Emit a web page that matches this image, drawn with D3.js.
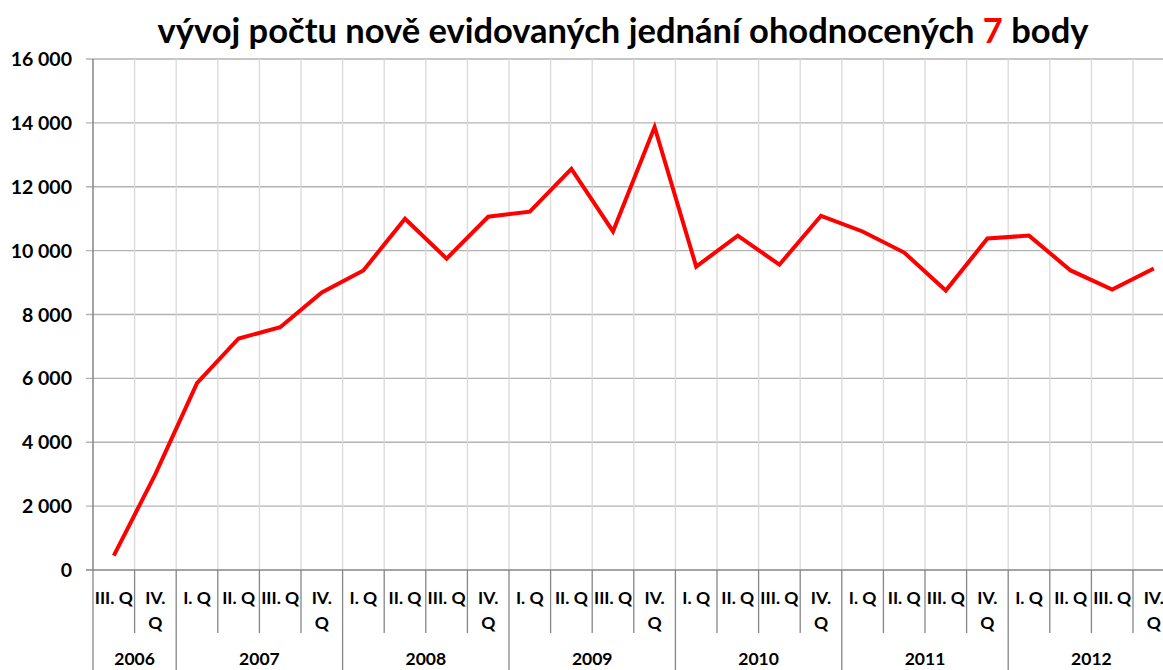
<!DOCTYPE html>
<html>
<head>
<meta charset="utf-8">
<script src="https://cdn.jsdelivr.net/npm/d3@7"></script>
<style>
  body { margin: 0; background: #fff; }
  svg { font-family: Lato, "Open Sans", sans-serif; }
</style>
</head>
<body>
<svg id="chart" width="1163" height="670"></svg>
<script>
// quarters and years along the x axis
const years = ['2006', '2007', '2008', '2009', '2010', '2011', '2012'];
const quartersPerYear = [
    ['III. Q', 'IV. Q'],
    ['I. Q', 'II. Q', 'III. Q', 'IV. Q'],
    ['I. Q', 'II. Q', 'III. Q', 'IV. Q'],
    ['I. Q', 'II. Q', 'III. Q', 'IV. Q'],
    ['I. Q', 'II. Q', 'III. Q', 'IV. Q'],
    ['I. Q', 'II. Q', 'III. Q', 'IV. Q'],
    ['I. Q', 'II. Q', 'III. Q', 'IV. Q']
];
// nove evidovana jednani (7 bodu)
const values = [
    450, 3000,
    5850, 7250, 7600, 8690,
    9380, 11000, 9750, 11060,
    11220, 12560, 10600, 13870,
    9500, 10470, 9560, 11090,
    10600, 9940, 8750, 10380,
    10470, 9380, 8780, 9440
];
const yTicks = [0, 2000, 4000, 6000, 8000, 10000, 12000, 14000, 16000];

function drawChart() {
    const svg = d3.select("#chart");
    svg.selectAll("*").remove();

    // flatten categories
    const cats = [];
    quartersPerYear.forEach((qs, yi) => qs.forEach(q => cats.push({ year: years[yi], q: q, id: years[yi] + ' ' + q })));

    const left = 93, top = 59, bottom = 570;
    const step = 41.6;
    const x = d3.scaleBand().domain(cats.map(d => d.id)).range([left, left + step * cats.length]);
    const y = d3.scaleLinear().domain([0, 16000]).range([bottom, top]);

    // title
    const title = svg.append("text")
        .attr("x", 623).attr("y", 43)
        .attr("text-anchor", "middle")
        .style("font-size", "34.5px").style("font-weight", "bold");
    title.append("tspan").text("vývoj počtu nově evidovaných jednání ohodnocených ");
    title.append("tspan").attr("fill", "#ff0000").text("7");
    title.append("tspan").text(" body");

    // horizontal gridlines
    svg.append("g").selectAll("line")
        .data(yTicks.filter(d => d > 0))
        .enter().append("line")
        .attr("x1", left - 7).attr("x2", 1163)
        .attr("y1", d => y(d)).attr("y2", d => y(d))
        .attr("stroke", "#b3b3b3").attr("stroke-width", 1.3);

    // vertical gridlines at category borders
    svg.append("g").selectAll("line")
        .data(cats.slice(1))
        .enter().append("line")
        .attr("x1", d => x(d.id)).attr("x2", d => x(d.id))
        .attr("y1", top).attr("y2", bottom)
        .attr("stroke", "#d9d9d9").attr("stroke-width", 1.3);

    // y axis
    svg.append("line")
        .attr("x1", left).attr("x2", left).attr("y1", top).attr("y2", bottom)
        .attr("stroke", "#868686").attr("stroke-width", 1.5);
    svg.append("g").selectAll("text")
        .data(yTicks)
        .enter().append("text")
        .attr("x", 72).attr("y", d => y(d) + 7)
        .attr("text-anchor", "end")
        .style("font-size", "19.5px").style("font-weight", "bold")
        .text(d => d3.format(",")(d).replace(/,/g, " "));

    // x axis
    svg.append("line")
        .attr("x1", left - 7).attr("x2", 1163).attr("y1", bottom).attr("y2", bottom)
        .attr("stroke", "#868686").attr("stroke-width", 1.5);

    // category tick lines below axis
    let idx = 0;
    const yearStart = [];
    quartersPerYear.forEach(qs => { yearStart.push(idx); idx += qs.length; });
    svg.append("g").selectAll("line")
        .data(cats.map((d, i) => i).concat([cats.length]))
        .enter().append("line")
        .attr("x1", i => left + i * step).attr("x2", i => left + i * step)
        .attr("y1", bottom)
        .attr("y2", i => (yearStart.includes(i) || i === cats.length) ? 670 : 633)
        .attr("stroke", "#868686").attr("stroke-width", 1.3);

    // quarter labels (IV. Q wraps to two lines)
    const qLab = svg.append("g").selectAll("text")
        .data(cats)
        .enter().append("text")
        .attr("text-anchor", "middle")
        .style("font-size", "17.5px").style("font-weight", "bold");
    qLab.each(function(d) {
        const t = d3.select(this);
        const cx = x(d.id) + x.bandwidth() / 2;
        if (d.q === 'IV. Q') {
            t.append("tspan").attr("x", cx).attr("y", 604).text("IV.");
            t.append("tspan").attr("x", cx).attr("y", 629).text("Q");
        } else {
            t.append("tspan").attr("x", cx).attr("y", 604).text(d.q);
        }
    });

    // year labels
    svg.append("g").selectAll("text")
        .data(years)
        .enter().append("text")
        .attr("x", (d, i) => left + (yearStart[i] + quartersPerYear[i].length / 2) * step)
        .attr("y", 665)
        .attr("text-anchor", "middle")
        .style("font-size", "17.5px").style("font-weight", "bold")
        .text(d => d);

    // data line
    const line = d3.line()
        .x((d, i) => x(cats[i].id) + x.bandwidth() / 2)
        .y(d => y(d));
    svg.append("path")
        .datum(values)
        .attr("d", line)
        .attr("fill", "none")
        .attr("stroke", "#ff0000")
        .attr("stroke-width", 4)
        .attr("stroke-linejoin", "miter");
}

drawChart();
</script>
</body>
</html>
